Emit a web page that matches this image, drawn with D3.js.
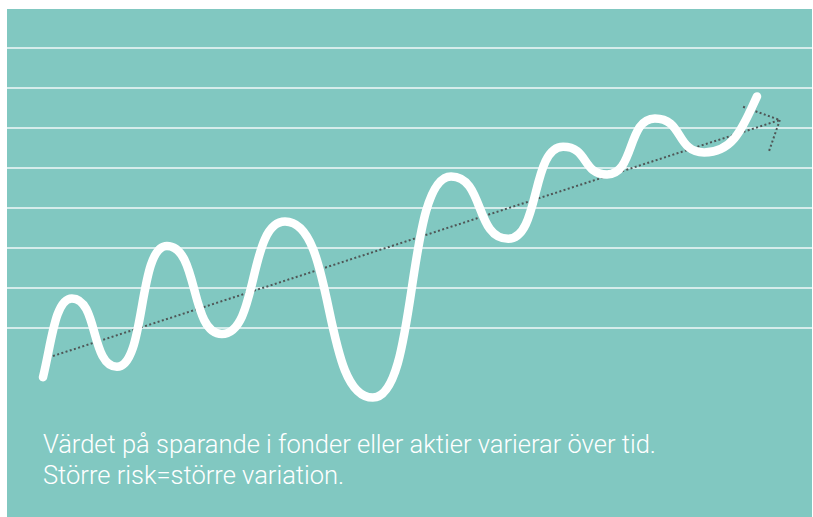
<!DOCTYPE html>
<html><head><meta charset="utf-8">
<script src="https://cdn.jsdelivr.net/npm/d3@7"></script>
<style>html,body{margin:0;padding:0;background:#fff;}svg{display:block;}</style>
</head><body>
<script>
// turning points (time, value in grid units) of the fluctuating savings curve
const curveTime  = [0, 0.81, 2.07, 3.47, 5.01, 6.78, 9.24, 11.43, 13.03, 14.57, 15.80, 17.14, 18.52, 20];
const curveValue = [-0.23, 1.74, 0.03, 3.05, 0.85, 3.66, -0.74, 4.79, 3.23, 5.53, 4.84, 6.24, 5.39, 6.79];
// trend arrow: shaft start/end and arrowhead arm ends
const trendTime  = [0.28, 20.64];
const trendValue = [0.3, 6.2];
const headTime   = [19.61, 20.34];
const headValue  = [6.53, 5.43];
const gridLevels = [1, 2, 3, 4, 5, 6, 7, 8];
const captionLines = ["Värdet på sparande i fonder eller aktier varierar över tid.", "Större risk=större variation."];

const W = 813, H = 517;
const svg = d3.select("body").append("svg").attr("width", W).attr("height", H);
const teal = "#81c8c1";
svg.append("rect").attr("x", 7).attr("y", 9).attr("width", 805).attr("height", 508).attr("fill", teal);

const x = d3.scaleLinear().domain([0, 20]).range([43, 757]);
const y = d3.scaleLinear().domain([0, 8]).range([368, 48]);

// gridlines
svg.append("g").selectAll("line").data(gridLevels).join("line")
  .attr("x1", 7).attr("x2", 812)
  .attr("y1", d => y(d)).attr("y2", d => y(d))
  .attr("stroke", "#ffffff").attr("stroke-width", 1.4).attr("opacity", 0.9);

// trend dotted line
const dotStyle = sel => sel.attr("stroke", "#4f5656").attr("stroke-width", 2).attr("stroke-dasharray", "2,2.4").attr("fill", "none");
svg.append("line")
  .attr("x1", x(trendTime[0])).attr("y1", y(trendValue[0]))
  .attr("x2", x(trendTime[1])).attr("y2", y(trendValue[1]))
  .call(dotStyle);
svg.append("g").selectAll("line").data(headTime.map((t, i) => [t, headValue[i]])).join("line")
  .attr("x1", d => x(d[0])).attr("y1", d => y(d[1]))
  .attr("x2", x(trendTime[1])).attr("y2", y(trendValue[1]))
  .call(dotStyle);

// custom d3 curve: horizontal bezier handles at turning points (hand-drawn look),
// chord-directed handles at the free ends
function curveWave(k) {
  return function(context) {
    let pts;
    return {
      areaStart() {}, areaEnd() {},
      lineStart() { pts = []; },
      point(px, py) { pts.push([px, py]); },
      lineEnd() {
        const n = pts.length;
        pts.forEach((p, i) => {
          if (i === 0) { context.moveTo(p[0], p[1]); return; }
          const p0 = pts[i - 1], h = p[0] - p0[0];
          let c1 = [p0[0] + k * h, p0[1]], c2 = [p[0] - k * h, p[1]];
          if (i === 1) c1 = [p0[0] + 0.3 * h, p0[1] + 0.45 * (p[1] - p0[1])];
          if (i === n - 1) c2 = [p[0] - 0.25 * h, p[1] + 0.5 * (p0[1] - p[1])];
          context.bezierCurveTo(c1[0], c1[1], c2[0], c2[1], p[0], p[1]);
        });
      }
    };
  };
}

const pts = curveTime.map((t, i) => [t, curveValue[i]]);
const line = d3.line().x(d => x(d[0])).y(d => y(d[1])).curve(curveWave(0.58));
svg.append("path").datum(pts).attr("d", line)
  .attr("fill", "none").attr("stroke", "#ffffff").attr("stroke-width", 8.5)
  .attr("stroke-linecap", "round").attr("stroke-linejoin", "round");

// caption
const cap = svg.append("g").attr("font-family", "'Helvetica Neue', Roboto, 'Liberation Sans', sans-serif")
  .attr("font-weight", 300).attr("font-size", 25.5).attr("fill", "#ffffff");
cap.selectAll("text").data(captionLines).join("text")
  .attr("x", 43).attr("y", (d, i) => 453 + i * 31).text(d => d);
</script>
</body></html>
